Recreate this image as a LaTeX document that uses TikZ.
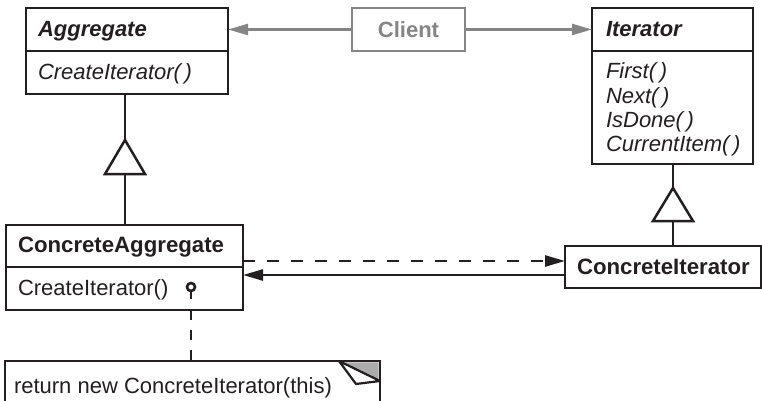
\documentclass[tikz,border=0pt]{standalone}
\usepackage{fontspec}
\setmainfont{Liberation Sans}
\usetikzlibrary{arrows.meta,calc}
\definecolor{ink}{HTML}{231F20}
\definecolor{cgray}{HTML}{858585}
\definecolor{foldgray}{HTML}{ABABAB}
\begin{document}
\begin{tikzpicture}[x=1pt,y=-1pt,
  box/.style={draw=ink,line width=2.8pt,rectangle,inner sep=0pt,outer sep=0pt,anchor=north west},
  graybox/.style={box,draw=cgray},
  divider/.style={draw=ink,line width=2.8pt},
  txt/.style={inner sep=0pt,outer sep=0pt,anchor=base west,text=ink,font=\fontsize{22pt}{26pt}\selectfont},
  btxt/.style={txt,font=\fontsize{22.2pt}{26pt}\selectfont\bfseries},
  bitxt/.style={txt,font=\fontsize{22pt}{26pt}\selectfont\bfseries\itshape},
  itxt/.style={txt,font=\fontsize{22pt}{26pt}\selectfont\itshape},
  conn/.style={draw=ink,line width=2.5pt},
  grayconn/.style={draw=cgray,line width=2.4pt,-{Triangle[length=20pt,width=11pt]}},
  blackarrow/.style={conn,-{Triangle[length=20pt,width=11pt]}},
  dasharrow/.style={blackarrow,dash pattern=on 12pt off 12pt},
  notelink/.style={conn,dash pattern=on 10pt off 10pt},
  inherit/.style={draw=ink,line width=2.5pt,fill=white,line join=miter}
]
\useasboundingbox (0,0) rectangle (762,401);

% boxes
\node[box,minimum width=202pt,minimum height=86pt] (agg) at (26,8) {};
\node[graybox,minimum width=113pt,minimum height=43pt] (client) at (352,8) {};
\node[box,minimum width=161pt,minimum height=156pt] (iter) at (592,8) {};
\node[box,minimum width=237pt,minimum height=85pt] (cagg) at (6,225) {};
\node[box,minimum width=196pt,minimum height=42pt] (citer) at (565,246) {};
\node[inner sep=0pt,outer sep=0pt,minimum width=375pt,minimum height=40pt,anchor=north west] (note) at (5,361) {};

% dividers
\draw[divider] (agg.west |- 0,51) -- (agg.east |- 0,51);
\draw[divider] (iter.west |- 0,51) -- (iter.east |- 0,51);
\draw[divider] (cagg.west |- 0,267) -- (cagg.east |- 0,267);

% texts
\node[bitxt] (aggname) at (38,37) {Aggregate};
\node[itxt] (aggop) at (38,80) {CreateIterator(\,)};
\node[inner sep=0pt,font=\fontsize{22pt}{26pt}\selectfont\bfseries,text=cgray] (clientname) at (client.center) {Client};
\node[bitxt] (itername) at (606,37) {Iterator};
\node[itxt] (op1) at (606,79) {First(\,)};
\node[itxt] (op2) at (606,103) {Next(\,)};
\node[itxt] (op3) at (606,127) {IsDone(\,)};
\node[itxt] (op4) at (606,151) {CurrentItem(\,)};
\node[btxt] (caggname) at (18,252) {ConcreteAggregate};
\node[txt] (caggop) at (18,295) {CreateIterator()};
\node[btxt] (citername) at (577,274) {ConcreteIterator};
\node[txt] (notetext) at (14,393) {return new ConcreteIterator(this)};

% client associations
\draw[grayconn] (client.west) -- (client.west -| agg.east);
\draw[grayconn] (client.east) -- (client.east -| iter.west);

% inheritance Aggregate
\coordinate (ta1) at (125,140);
\coordinate (tb1) at (125,174);
\draw[conn] (ta1 |- agg.south) -- (ta1);
\draw[inherit] (ta1) -- ($(tb1)+(-20,0)$) -- ($(tb1)+(20,0)$) -- cycle;
\draw[conn] (tb1) -- (tb1 |- cagg.north);

% inheritance Iterator
\coordinate (ta2) at (673,188);
\coordinate (tb2) at (673,221);
\draw[conn] (ta2 |- iter.south) -- (ta2);
\draw[inherit] (ta2) -- ($(tb2)+(-20,0)$) -- ($(tb2)+(20,0)$) -- cycle;
\draw[conn] (tb2) -- (tb2 |- citer.north);

% creates / refers
\coordinate (dy) at (0,261);
\coordinate (sy) at (0,275);
\draw[dasharrow] (cagg.east |- dy) -- (citer.west |- dy);
\draw[blackarrow] (citer.west |- sy) -- (cagg.east |- sy);

% note
\draw[conn,line width=2.6pt] (note.south west) -- (note.north west) -- (note.north east) -- (note.south east);
\fill[foldgray] ($(note.north east)+(-41,1.3)$) -- ($(note.north east)+(-1.3,1.3)$) -- ($(note.north east)+(-1.3,20)$) -- cycle;
\draw[conn,line width=2.2pt,fill=white,line join=round] ($(note.north east)+(-41,0)$) -- ($(note.north east)+(-24,23)$) -- ($(note.north east)+(0,20)$) -- cycle;

% note link
\node[circle,draw=ink,line width=2.6pt,fill=white,minimum size=8pt,inner sep=0pt] (dot) at (191,287) {};
\draw[conn,line width=2.5pt] (dot.south) -- ++(0,7);
\draw[notelink] (dot |- cagg.south) -- (dot |- note.north);
\end{tikzpicture}
\end{document}
